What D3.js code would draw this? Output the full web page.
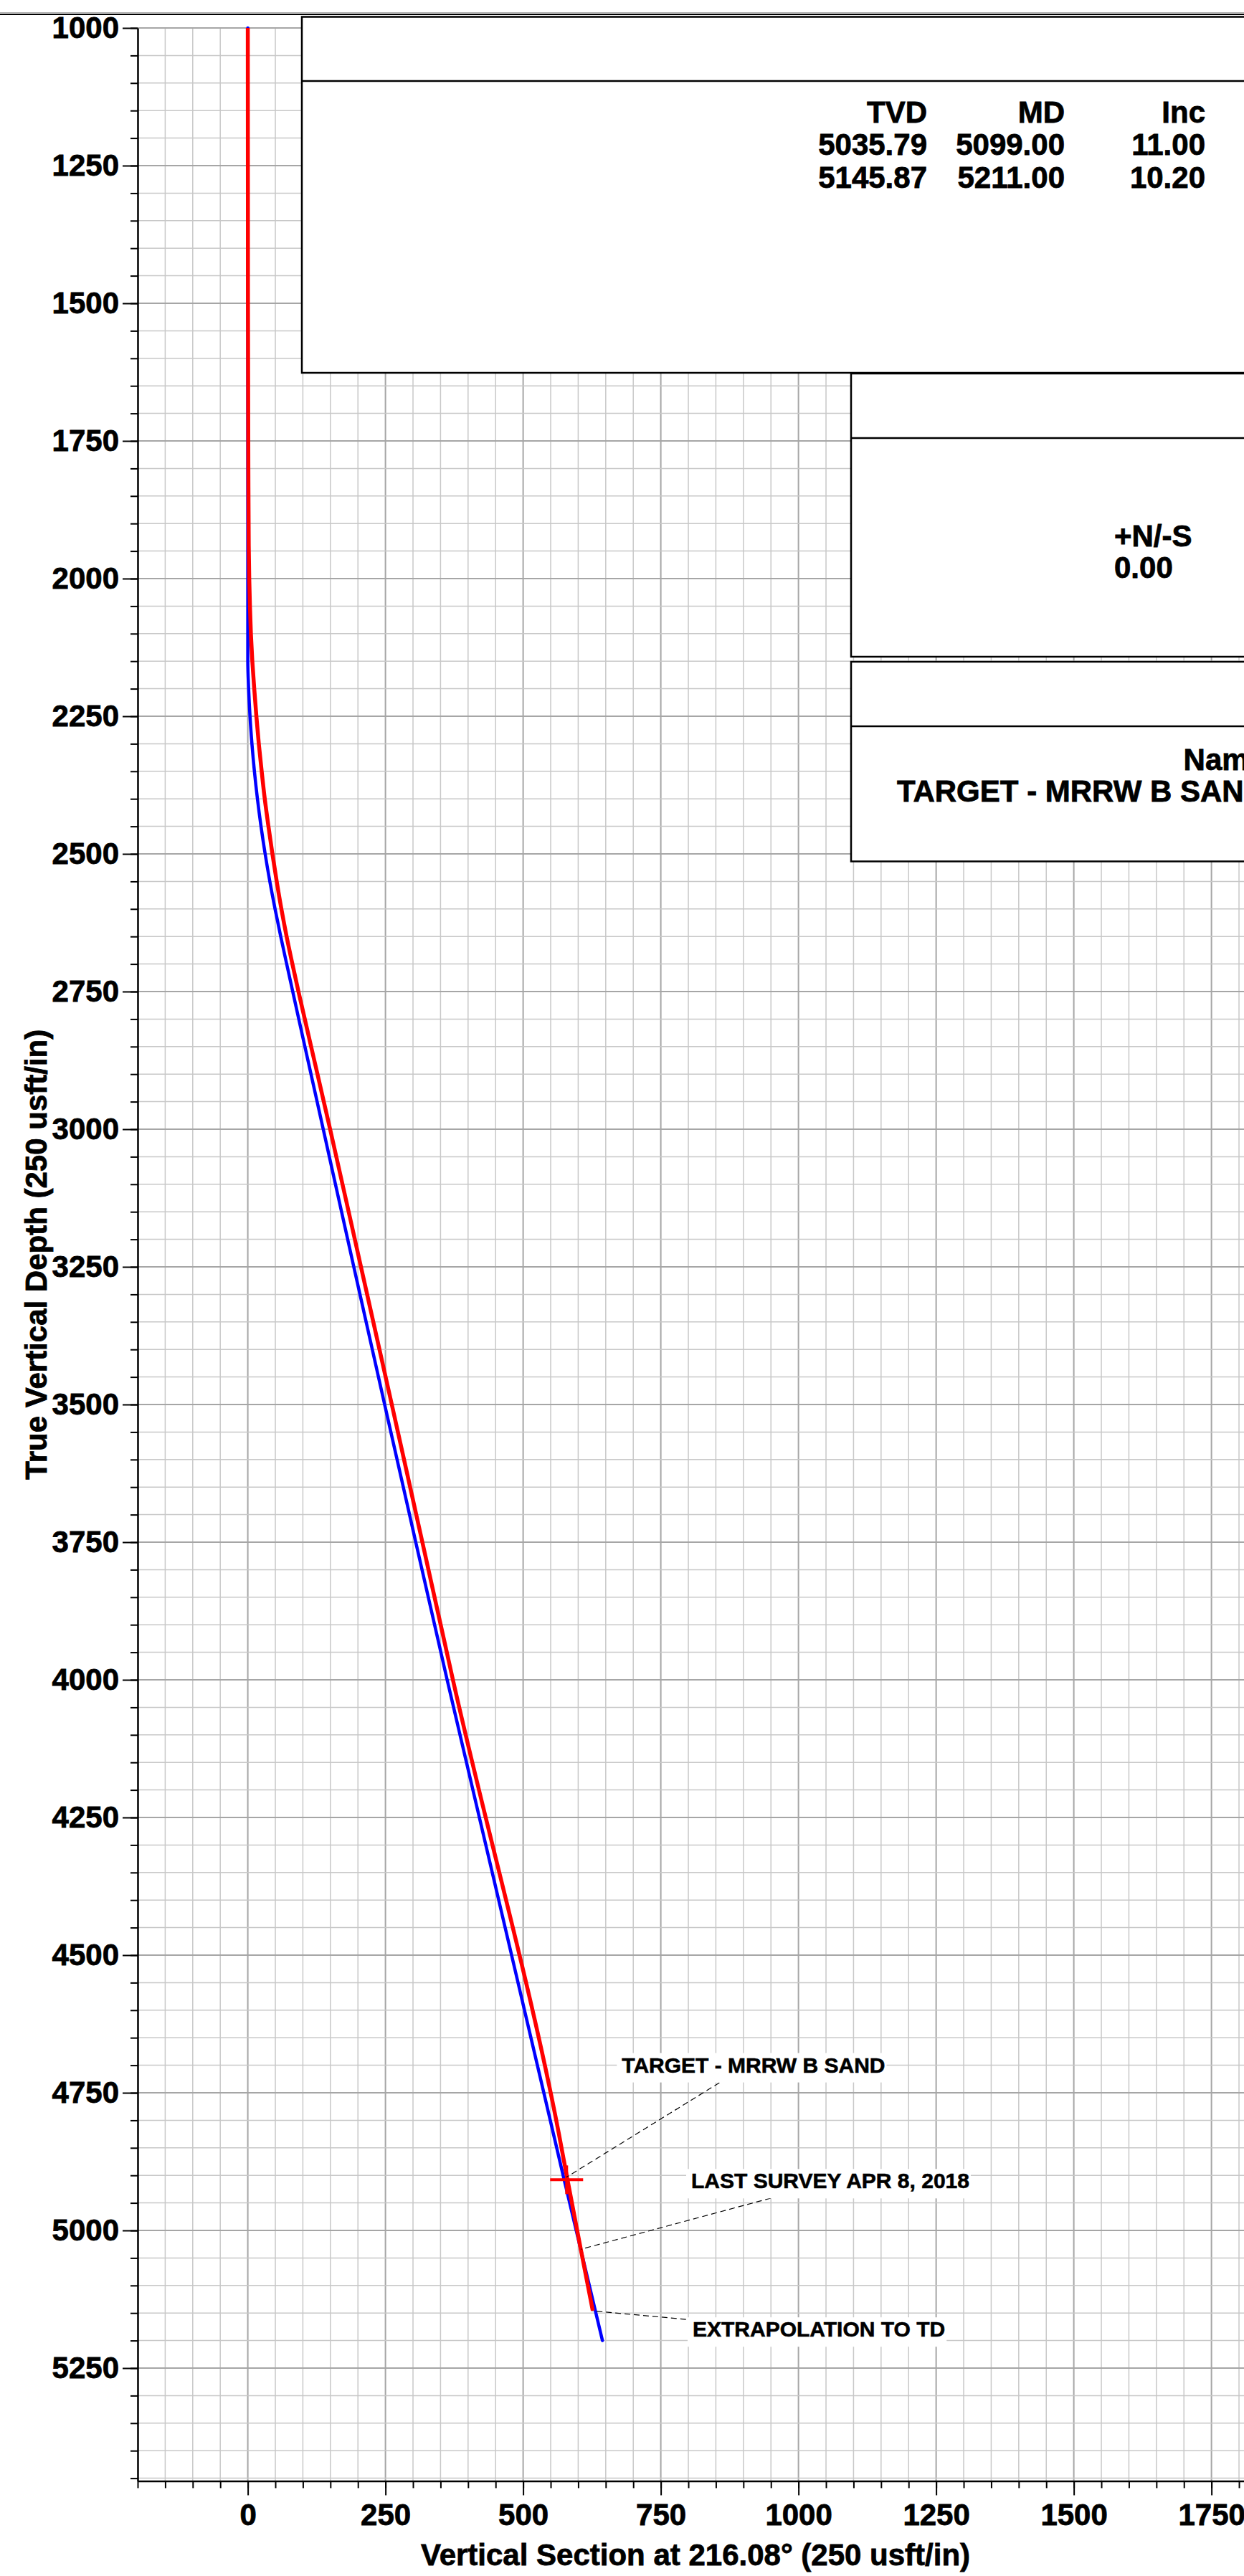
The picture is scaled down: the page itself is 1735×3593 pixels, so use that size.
<!DOCTYPE html>
<html>
<head>
<meta charset="utf-8">
<script src="https://cdn.jsdelivr.net/npm/d3@7"></script>
<style>
  html, body { margin: 0; padding: 0; background: #fff; }
  svg { display: block; }
</style>
</head>
<body>
<svg id="chart" width="1735" height="3593"></svg>
<script>
// ---------------- DATA ----------------
const xMajorTicks = [0, 250, 500, 750, 1000, 1250, 1500, 1750];
const yMajorTicks = [1000, 1250, 1500, 1750, 2000, 2250, 2500, 2750, 3000, 3250, 3500, 3750, 4000, 4250, 4500, 4750, 5000, 5250];

// Plan (blue): vertical section vs TVD
const planVS  = [0, 0, 0, 1.5, 4, 7.5, 12, 17.5, 24, 31.5, 40, 49.5, 59.8, 70.6, 81.6, 92.6, 137, 192.5, 248.5, 305, 362, 575, 644];
const planTVD = [1000, 2000, 2150, 2200, 2250, 2300, 2350, 2400, 2450, 2500, 2550, 2600, 2650, 2700, 2750, 2800, 3000, 3250, 3500, 3750, 4000, 4910, 5200];

// Actual survey + extrapolation to TD (red)
const surveyVS  = [0, 0.3, 1.0, 1.7, 2.6, 3.9, 5.6, 8.2, 11.7, 15.6, 20, 25.2, 30.8, 37.5, 44.7, 52.5, 61, 70.5, 81, 92, 103.5, 115, 126.5, 138, 149.5, 205.5, 261.5, 317, 372.5, 565, 580, 605, 626.5];
const surveyTVD = [1000, 1500, 1800, 1940, 2000, 2050, 2100, 2150, 2200, 2250, 2300, 2350, 2400, 2450, 2500, 2550, 2600, 2650, 2700, 2750, 2800, 2850, 2900, 2950, 3000, 3250, 3500, 3750, 4000, 4825, 4905, 5035.79, 5145.87];

// Target marker
const targetVS = 579;
const targetTVD = 4908;

// Annotations
const annotLabels   = ["TARGET - MRRW B SAND", "LAST SURVEY APR 8, 2018", "EXTRAPOLATION TO TD"];
const annotTextVS   = [679.3, 805.2, 807.8];
const annotTextTVD  = [4713, 4923.6, 5193];
const annotFromVS   = [856.4, 949.7, 795.7];
const annotFromTVD  = [4731.8, 4941.4, 5161.5];
const annotToVS     = [578.6, 604.7, 626.4];
const annotToTVD    = [4903.3, 5034.2, 5146.2];

// Tables
const surveyHeaders = ["TVD", "MD", "Inc"];
const surveyRow1 = ["5035.79", "5099.00", "11.00"];
const surveyRow2 = ["5145.87", "5211.00", "10.20"];
const nsHeader = "+N/-S";
const nsValue = "0.00";
const targetHeader = "Name";
const targetName = "TARGET - MRRW B SAND";

const xTitle = "Vertical Section at 216.08\u00B0 (250 usft/in)";
const yTitle = "True Vertical Depth (250 usft/in)";

// ---------------- DRAW ----------------
const FONT = "'Liberation Sans', Arial, Helvetica, sans-serif";
const TSTROKE = 0.8;
const svg = d3.select("#chart");

const x = d3.scaleLinear().domain([-200, 1826]).range([192, 1748]);
const y = d3.scaleLinear().domain([1000, 5455]).range([39, 39 + 4455 * 0.768]);

const xMinor = d3.range(-200, 1801, 50);
const yMinor = d3.range(1000, 5451, 50);

// top page lines
svg.append("line").attr("x1", 0).attr("x2", 1735).attr("y1", 17.5).attr("y2", 17.5)
  .attr("stroke", "#b0b0b0").attr("stroke-width", 1);
svg.append("line").attr("x1", 0).attr("x2", 1735).attr("y1", 20).attr("y2", 20)
  .attr("stroke", "#000").attr("stroke-width", 2);

// grid
const grid = svg.append("g");
grid.selectAll("line.vx").data(xMinor).join("line")
  .attr("x1", d => x(d)).attr("x2", d => x(d))
  .attr("y1", y(1000)).attr("y2", y(5455))
  .attr("stroke", d => d % 250 === 0 ? "#a6a6a6" : "#c8c8c8")
  .attr("stroke-width", d => d % 250 === 0 ? 2 : 1.5);
grid.selectAll("line.hy").data(yMinor).join("line")
  .attr("y1", d => y(d)).attr("y2", d => y(d))
  .attr("x1", x(-200)).attr("x2", x(1826))
  .attr("stroke", d => d % 250 === 0 ? "#a6a6a6" : "#c8c8c8")
  .attr("stroke-width", d => d % 250 === 0 ? 2 : 1.5);

// curves
const line = d3.line().x(d => x(d[0])).y(d => y(d[1])).curve(d3.curveMonotoneY);
const planPts = planVS.map((v, i) => [v, planTVD[i]]);
const surveyPts = surveyVS.map((v, i) => [v, surveyTVD[i]]);
svg.append("path").datum(planPts).attr("d", line)
  .attr("fill", "none").attr("stroke", "#0000ff").attr("stroke-width", 4.5).attr("stroke-linecap", "round");
svg.append("path").datum(surveyPts).attr("d", line)
  .attr("fill", "none").attr("stroke", "#ff0000").attr("stroke-width", 5.5);

// target cross
const tx = x(targetVS), ty = y(targetTVD);
svg.append("line").attr("x1", tx - 23).attr("x2", tx + 23).attr("y1", ty).attr("y2", ty)
  .attr("stroke", "#ff0000").attr("stroke-width", 4);
svg.append("line").attr("x1", tx).attr("x2", tx).attr("y1", ty - 20).attr("y2", ty + 20)
  .attr("stroke", "#ff0000").attr("stroke-width", 4);

// annotations
const ann = svg.append("g");
annotLabels.forEach((lab, i) => {
  ann.append("line")
    .attr("x1", x(annotFromVS[i])).attr("y1", y(annotFromTVD[i]))
    .attr("x2", x(annotToVS[i])).attr("y2", y(annotToTVD[i]))
    .attr("stroke", "#000").attr("stroke-width", 1.2).attr("stroke-dasharray", "8,5");
});
annotLabels.forEach((lab, i) => {
  const g = ann.append("g");
  const bg = g.append("rect").attr("fill", "#fff");
  const t = g.append("text")
    .attr("x", x(annotTextVS[i])).attr("y", y(annotTextTVD[i]))
    .attr("font-family", FONT).attr("font-weight", "bold").attr("font-size", 30)
    .attr("fill", "#000").attr("stroke", "#000").attr("stroke-width", 0.6).text(lab);
  const bb = t.node().getBBox();
  const b = y(annotTextTVD[i]);
  bg.attr("x", bb.x - 7).attr("y", b - 27).attr("width", bb.width + 9).attr("height", 41);
});

// boxes
function box(x0, y0, y1, ydiv) {
  svg.append("rect").attr("x", x0).attr("y", y0).attr("width", 1735 - x0 + 20).attr("height", y1 - y0)
    .attr("fill", "#fff").attr("stroke", "#000").attr("stroke-width", 2.5);
  svg.append("line").attr("x1", x0).attr("x2", 1760).attr("y1", ydiv).attr("y2", ydiv)
    .attr("stroke", "#000").attr("stroke-width", 2.5);
}
box(421, 23.5, 520, 113);
box(1187, 521, 916, 611);
box(1187, 923, 1201.5, 1013);

function txt(s, xx, yy, anchor, size) {
  svg.append("text").attr("x", xx).attr("y", yy).attr("text-anchor", anchor)
    .attr("font-family", FONT).attr("font-weight", "bold").attr("font-size", size || 42)
    .attr("fill", "#000").attr("stroke", "#000").attr("stroke-width", TSTROKE).text(s);
}
const colRight = [1293, 1485, 1681];
surveyHeaders.forEach((h, i) => txt(h, colRight[i], 171, "end"));
surveyRow1.forEach((h, i) => txt(h, colRight[i], 216, "end"));
surveyRow2.forEach((h, i) => txt(h, colRight[i], 261.5, "end"));
txt(nsHeader, 1554, 761.5, "start");
txt(nsValue, 1554, 806, "start");
txt(targetHeader, 1765, 1074, "end");
txt(targetName, 1765, 1117.5, "end");

// axes
const axL = svg.append("g").attr("transform", `translate(${x(-200)},0)`);
axL.call(d3.axisLeft(y).tickValues(yMinor).tickSize(10).tickFormat(""));
axL.call(g => g.select(".domain").remove());
const axL2 = svg.append("g").attr("transform", `translate(${x(-200)},0)`);
axL2.call(d3.axisLeft(y).tickValues(yMajorTicks).tickSize(21).tickSizeOuter(0).tickPadding(5).tickFormat(d3.format("d")));

const axB = svg.append("g").attr("transform", `translate(0,${y(5455)})`);
axB.call(d3.axisBottom(x).tickValues(xMinor).tickSize(10).tickFormat(""));
axB.call(g => g.select(".domain").remove());
const axB2 = svg.append("g").attr("transform", `translate(0,${y(5455)})`);
axB2.call(d3.axisBottom(x).tickValues(xMajorTicks).tickSize(20).tickSizeOuter(0).tickPadding(12).tickFormat(d3.format("d")));

svg.selectAll(".tick line").attr("stroke", "#000").attr("stroke-width", 2);
svg.selectAll(".domain").attr("stroke", "#000").attr("stroke-width", 2.5);
svg.selectAll(".tick text").attr("font-family", FONT).attr("font-weight", "bold")
  .attr("font-size", 42).attr("fill", "#000").attr("stroke", "#000").attr("stroke-width", TSTROKE);

// titles
svg.append("text").attr("x", (x.range()[0] + x.range()[1]) / 2).attr("y", 3578)
  .attr("text-anchor", "middle").attr("font-family", FONT).attr("font-weight", "bold")
  .attr("font-size", 42).attr("fill", "#000").attr("stroke", "#000").attr("stroke-width", TSTROKE).text(xTitle);
svg.append("text")
  .attr("transform", `translate(65,${(y.range()[0] + y.range()[1]) / 2}) rotate(-90)`)
  .attr("text-anchor", "middle").attr("font-family", FONT).attr("font-weight", "bold")
  .attr("font-size", 42).attr("fill", "#000").attr("stroke", "#000").attr("stroke-width", TSTROKE).text(yTitle);
</script>
</body>
</html>
